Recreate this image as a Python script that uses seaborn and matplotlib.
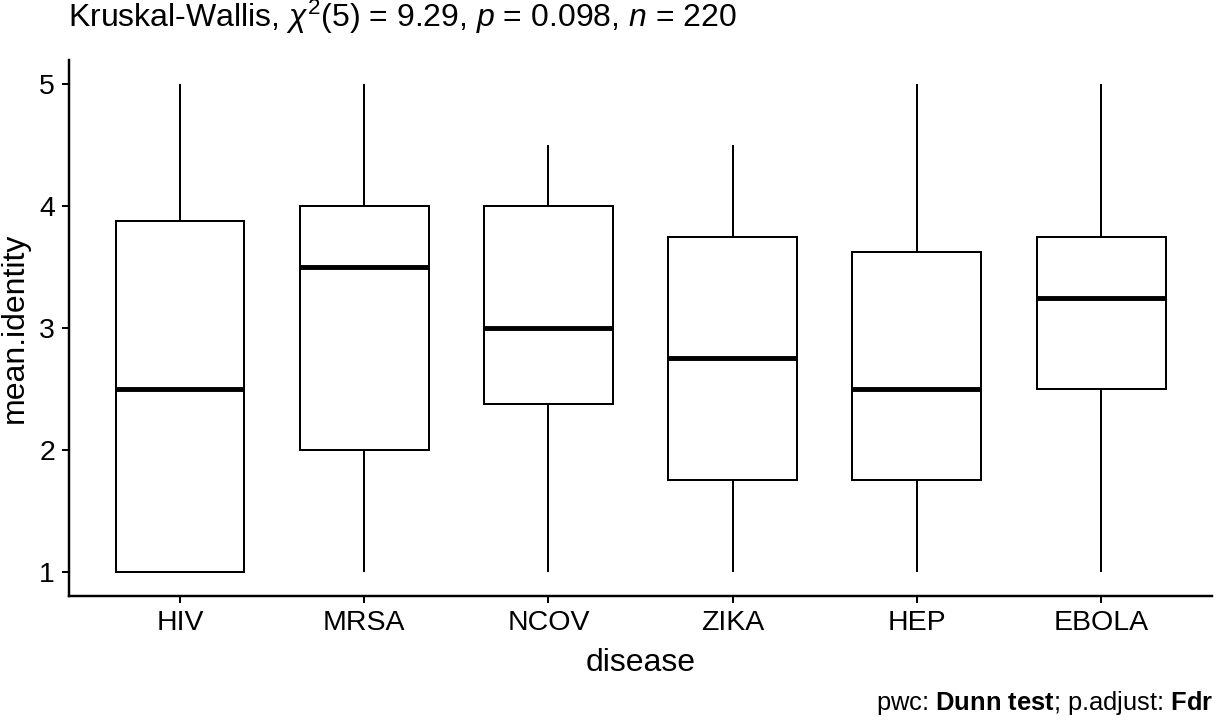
import pandas as pd
import numpy as np
import matplotlib
matplotlib.use("Agg")
import matplotlib.pyplot as plt
import seaborn as sns

# ------------------------------------------
# Data: five-number summary per disease (min, q1, median, q3, max)
# ------------------------------------------
diseases = ["HIV", "MRSA", "NCOV", "ZIKA", "HEP", "EBOLA"]
hiv = [1.0, 1.0, 2.5, 3.875, 5.0]
mrsa = [1.0, 2.0, 3.5, 4.0, 5.0]
ncov = [1.0, 2.375, 3.0, 4.0, 4.5]
zika = [1.0, 1.75, 2.75, 3.75, 4.5]
hep = [1.0, 1.75, 2.5, 3.625, 5.0]
ebola = [1.0, 2.5, 3.25, 3.75, 5.0]

title_text = r"Kruskal-Wallis, $\chi^{2}$(5) = 9.29, $\mathit{p}$ = 0.098, $\mathit{n}$ = 220"
caption_text = r"pwc: $\mathbf{Dunn\ test}$; p.adjust: $\mathbf{Fdr}$"

values = [hiv, mrsa, ncov, zika, hep, ebola]
df = pd.DataFrame({
    "disease": np.repeat(diseases, [len(v) for v in values]),
    "mean.identity": np.concatenate(values),
})

# ------------------------------------------
# Style
# ------------------------------------------
sns.set_style("ticks")
plt.rcParams["font.family"] = ["Liberation Sans", "DejaVu Sans"]
plt.rcParams["text.color"] = "black"
plt.rcParams["axes.labelcolor"] = "black"
plt.rcParams["mathtext.fontset"] = "custom"
plt.rcParams["mathtext.rm"] = "Liberation Sans"
plt.rcParams["mathtext.it"] = "Liberation Sans:italic"
plt.rcParams["mathtext.bf"] = "Liberation Sans:bold"

fig = plt.figure(figsize=(1223 / 160, 722 / 160), dpi=160)
ax = fig.add_axes([0.0568, 0.1745, 0.934, 0.7425])

sns.boxplot(
    data=df, x="disease", y="mean.identity", order=diseases,
    color="white", linecolor="black", linewidth=0.9, width=0.7,
    whis=1.5, showcaps=False, fliersize=0, ax=ax,
    medianprops=dict(linewidth=2.2, color="black"),
)

ax.set_xlim(-0.6, 5.6)
ax.set_ylim(0.8, 5.2)
ax.set_yticks([1, 2, 3, 4, 5])
ax.set_xlabel("disease", fontsize=14.4, color="black", labelpad=5)
ax.set_ylabel("mean.identity", fontsize=14.4, color="black", labelpad=4)
ax.tick_params(axis="both", labelsize=12.8, colors="black", width=0.9, length=3, direction="out")
for s in ["top", "right"]:
    ax.spines[s].set_visible(False)
for s in ["left", "bottom"]:
    ax.spines[s].set_linewidth(1.1)
    ax.spines[s].set_color("black")

fig.text(0.0556, 0.962, title_text, fontsize=14.4, ha="left", va="baseline")
fig.text(0.992, 0.016, caption_text, fontsize=11.5, ha="right", va="baseline")

plt.savefig("out.png", dpi=160)
